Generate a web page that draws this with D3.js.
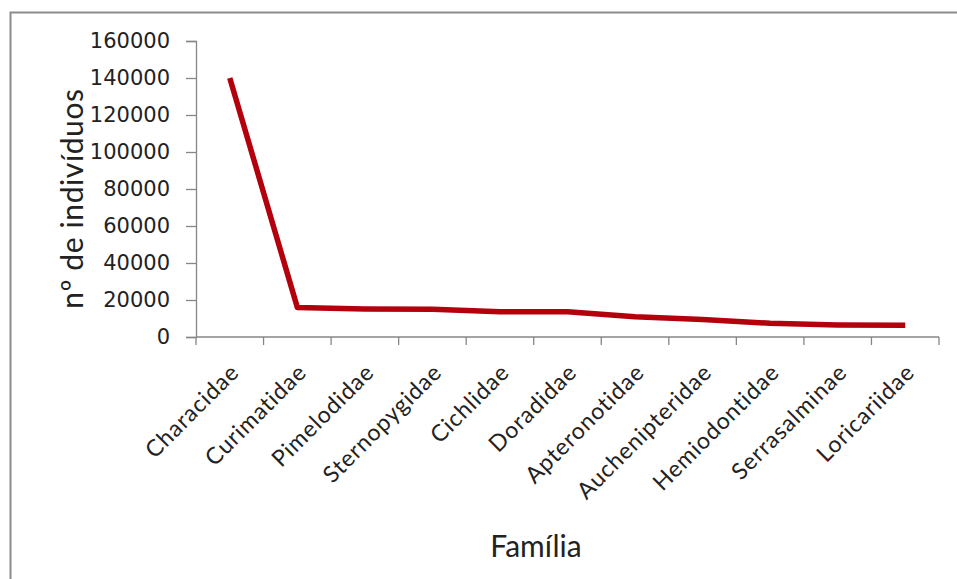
<!DOCTYPE html>
<html>
<head>
<meta charset="utf-8">
<script src="https://cdn.jsdelivr.net/npm/d3@7"></script>
<style>
  html, body { margin: 0; padding: 0; background: #fff; }
  svg { display: block; }
</style>
</head>
<body>
<svg id="chart" width="957" height="579"></svg>
<script>
// Número de indivíduos capturados por família
const familias = ["Characidae", "Curimatidae", "Pimelodidae", "Sternopygidae", "Cichlidae",
  "Doradidae", "Apteronotidae", "Auchenipteridae", "Hemiodontidae", "Serrasalminae", "Loricariidae"];
const individuos = [140000, 16000, 15100, 15000, 13700, 13700, 11000, 9500, 7400, 6500, 6300];
const yTicks = [0, 20000, 40000, 60000, 80000, 100000, 120000, 140000, 160000];

const svg = d3.select("#chart");
const W = 957, H = 579;
const plot = { left: 196, right: 939, top: 41, bottom: 337 };

// chart frame (left and top edges)
svg.append("path")
  .attr("d", `M10.5,${H} V12.5 H${W}`)
  .attr("fill", "none")
  .attr("stroke", "#8c8c8c")
  .attr("stroke-width", 2);

const x = d3.scaleBand().domain(familias).range([plot.left, plot.right]);
const y = d3.scaleLinear().domain([0, 160000]).range([plot.bottom, plot.top]);

// y axis
const yAxis = svg.append("g")
  .attr("transform", `translate(${plot.left},0)`)
  .call(d3.axisLeft(y).tickValues(yTicks).tickSize(10).tickPadding(16).tickFormat(d3.format("d")));
yAxis.select(".domain").attr("stroke", "#868686").attr("stroke-width", 1.3);
yAxis.selectAll(".tick line").attr("stroke", "#868686").attr("stroke-width", 1.3);
yAxis.selectAll("text")
  .attr("font-family", "'DejaVu Sans', Verdana, sans-serif")
  .attr("font-size", 21)
  .attr("fill", "#222");

// x axis: tick marks sit on the category boundaries
const xAxisG = svg.append("g").attr("transform", `translate(0,${plot.bottom})`);
xAxisG.append("line")
  .attr("x1", plot.left).attr("x2", plot.right)
  .attr("stroke", "#868686").attr("stroke-width", 1.3);
const bounds = familias.map(f => x(f)).concat([x.range()[1]]);
xAxisG.selectAll("line.tk").data(bounds).join("line")
  .attr("class", "tk")
  .attr("x1", d => d).attr("x2", d => d)
  .attr("y1", 0).attr("y2", 8)
  .attr("stroke", "#868686").attr("stroke-width", 1.3);

xAxisG.selectAll("text.cat").data(familias).join("text")
  .attr("class", "cat")
  .attr("transform", d => `translate(${x(d) + x.bandwidth() / 2 + 5},${31}) rotate(-45)`)
  .attr("text-anchor", "end")
  .attr("dy", "0.35em")
  .attr("font-family", "Lato, 'Open Sans', sans-serif")
  .attr("font-size", 23)
  .attr("letter-spacing", 0.9)
  .attr("fill", "#222")
  .text(d => d);

// line
const line = d3.line()
  .x((d, i) => x(familias[i]) + x.bandwidth() / 2)
  .y(d => y(d));
svg.append("path")
  .datum(individuos)
  .attr("d", line)
  .attr("fill", "none")
  .attr("stroke", "#b3000c")
  .attr("stroke-width", 5.5)
  .attr("stroke-linejoin", "round");

// axis titles
svg.append("text")
  .attr("transform", `translate(72,${(87 + 310) / 2}) rotate(-90)`)
  .attr("text-anchor", "middle")
  .attr("dy", "0.35em")
  .attr("font-family", "Lato, 'Open Sans', sans-serif")
  .attr("font-size", 30)
  .attr("letter-spacing", 0.6)
  .attr("fill", "#222")
  .text("nº de indivíduos");

svg.append("text")
  .attr("x", 536)
  .attr("y", 557)
  .attr("text-anchor", "middle")
  .attr("font-family", "Lato, 'Open Sans', sans-serif")
  .attr("font-size", 30)
  .attr("fill", "#222")
  .text("Família");
</script>
</body>
</html>
